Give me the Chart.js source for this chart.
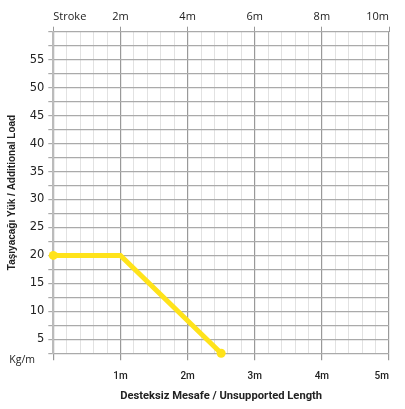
<!DOCTYPE html>
<html>
<head>
<meta charset="utf-8">
<script src="https://cdn.jsdelivr.net/npm/chart.js@4"></script>
<style>
html,body{margin:0;padding:0;background:#fff;}
#wrap{width:405px;height:409px;position:relative;}
</style>
</head>
<body>
<div id="wrap"><canvas id="c"></canvas></div>
<script>
// Data
const lengths = [0, 1, 2.5];          // Unsupported length (m)
const loads = [20, 20, 2.5];          // Additional load (kg/m)
const strokeTicks = [0, 2, 4, 6, 8, 10];
const yTitle = 'Taşıyacağı Yük / Additional Load';
const xTitle = 'Desteksiz Mesafe / Unsupported Length';
const unitLabel = 'Kg/m';

const isInt = v => Math.abs(v - Math.round(v)) < 1e-6;

const unitPlugin = {
  id: 'unit',
  afterDraw(chart) {
    const ctx = chart.ctx;
    const y = chart.scales.y;
    ctx.save();
    ctx.font = '10.5px "Open Sans"';
    ctx.fillStyle = '#222';
    ctx.textAlign = 'right';
    ctx.textBaseline = 'middle';
    ctx.fillText(unitLabel, 35, y.getPixelForValue(y.min) + 7);
    ctx.restore();
  }
};

new Chart(document.getElementById('c'), {
  type: 'line',
  data: {
    datasets: [{
      data: lengths.map((x, i) => ({x: x, y: loads[i]})),
      borderColor: '#FFE31A',
      backgroundColor: '#FFE31A',
      borderWidth: 5,
      pointRadius: [4.5, 0, 4.5],
      pointBorderWidth: 0,
      pointBackgroundColor: '#FFE31A',
      xAxisID: 'x',
      yAxisID: 'y',
      tension: 0,
      clip: false
    }]
  },
  options: {
    responsive: true,
    maintainAspectRatio: false,
    animation: false,
    layout: {padding: {left: 0, right: 16, top: 0, bottom: 0}},
    plugins: {legend: {display: false}, tooltip: {enabled: false}},
    scales: {
      x: {
        type: 'linear',
        position: 'bottom',
        min: 0, max: 5,
        afterFit(s) { s.height = 55.7; },
        border: {color: '#aaa', width: 1},
        grid: {
          color: c => isInt(c.tick.value) ? '#999' : '#e2e2e2',
          lineWidth: c => isInt(c.tick.value) ? 1.2 : 1,
          tickColor: c => isInt(c.tick.value) ? '#999' : 'rgba(0,0,0,0)',
          tickLength: 7
        },
        ticks: {
          stepSize: 0.2,
          autoSkip: false,
          maxRotation: 0,
          align: 'inner',
          padding: 10,
          color: '#222',
          font: {family: 'Roboto', weight: '500', size: 10},
          callback: v => (isInt(v) && Math.round(v) >= 1) ? Math.round(v) + 'm' : ''
        },
        title: {
          display: true,
          text: xTitle,
          color: '#222',
          font: {family: 'Roboto', weight: 'bold', size: 11.2},
          padding: {top: 0, bottom: 6.5}
        }
      },
      x2: {
        type: 'linear',
        position: 'top',
        min: 0, max: 10,
        afterFit(s) { s.height = 31.7; },
        afterBuildTicks(s) { s.ticks = strokeTicks.map(v => ({value: v})); },
        border: {display: false},
        grid: {drawOnChartArea: false, tickLength: 5, tickColor: '#999'},
        ticks: {
          autoSkip: false,
          maxRotation: 0,
          align: 'inner',
          padding: 3.5,
          color: '#222',
          font: {family: 'Open Sans', size: 11},
          callback: v => v === 0 ? 'Stroke' : v + 'm'
        }
      },
      y: {
        type: 'linear',
        position: 'left',
        min: 2.5, max: 60,
        afterFit(s) { s.width = 53.3; },
        border: {color: '#bbb', width: 2},
        grid: {color: '#aaa', lineWidth: 1.2, tickColor: '#aaa', tickLength: 5},
        ticks: {
          stepSize: 2.5,
          autoSkip: false,
          padding: 4,
          color: '#222',
          font: {family: 'DejaVu Sans', size: 11.5},
          callback: v => (isInt(v / 5) && v < 60) ? String(Math.round(v)) : ''
        },
        title: {
          display: true,
          text: yTitle,
          color: '#222',
          font: {family: 'Liberation Sans', weight: 'bold', size: 10},
          padding: {top: 6, bottom: 0}
        }
      }
    }
  },
  plugins: [unitPlugin]
});
</script>
</body>
</html>
